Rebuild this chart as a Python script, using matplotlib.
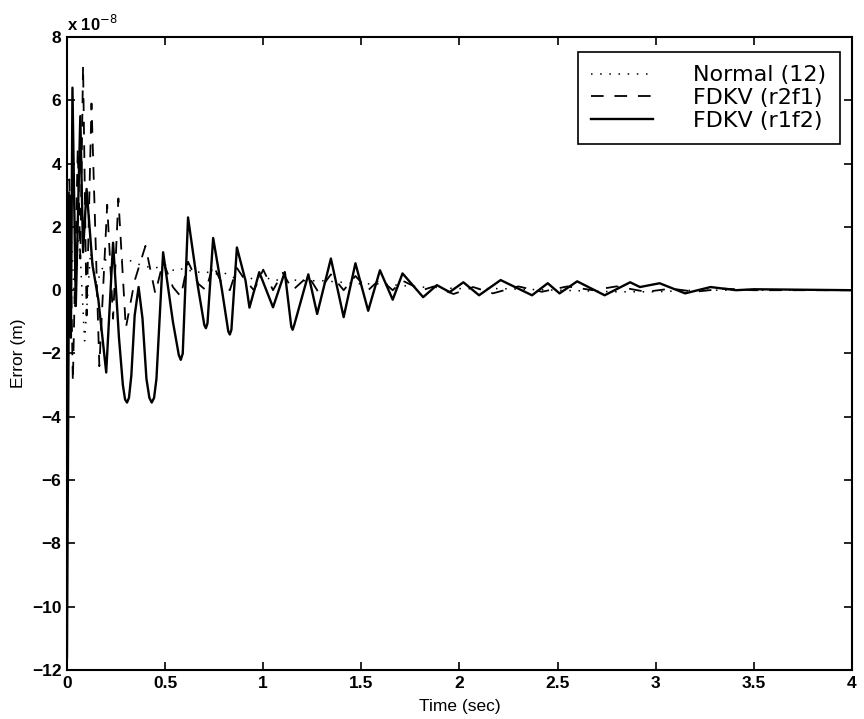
import matplotlib
matplotlib.use("Agg")
import matplotlib.pyplot as plt

plt.rcParams['font.family'] = ['Liberation Sans', 'DejaVu Sans']

# ---- data (values in units of 1e-8 m) ----
t_normal = [0.000, 0.015, 0.040, 0.060, 0.090, 0.120, 0.150, 0.200, 0.250, 0.300,
            0.350, 0.400, 0.450, 0.500, 0.550, 0.600, 0.650, 0.700, 0.750, 0.800,
            0.850, 0.900, 0.950, 1.000, 1.050, 1.100, 1.200, 1.300, 1.400, 1.500,
            1.600, 1.700, 1.800, 2.000, 2.200, 2.500, 2.800, 3.000, 3.200, 3.500, 4.000]
y_normal = [0.0, 2.5, -0.5, 2.0, -1.6, 1.2, 0.2, 1.0, 0.9, 1.0,
            0.85, 0.75, 0.7, 0.8, 0.6, 0.7, 0.55, 0.6, 0.5, 0.55,
            0.4, 0.45, 0.35, 0.45, 0.3, 0.35, 0.3, 0.3, 0.25, 0.2,
            0.2, 0.15, 0.1, 0.05, 0.05, 0.0, -0.05, -0.05, 0.0, 0.0, 0.0]

t_r2f1 = [0.000, 0.012, 0.030, 0.055, 0.068, 0.082, 0.100, 0.125, 0.165, 0.205,
          0.235, 0.262, 0.300, 0.345, 0.400, 0.450, 0.490, 0.540, 0.580, 0.617,
          0.670, 0.708, 0.745, 0.790, 0.830, 0.866, 0.910, 0.953, 1.000, 1.050,
          1.100, 1.150, 1.230, 1.280, 1.345, 1.410, 1.470, 1.535, 1.595, 1.660,
          1.710, 1.810, 1.870, 1.970, 2.070, 2.170, 2.300, 2.420, 2.550, 2.680,
          2.800, 2.950, 3.080, 3.200, 3.350, 3.500, 4.000]
y_r2f1 = [0.5, 3.5, -2.9, 4.5, 1.0, 7.1, -0.8, 5.9, -2.4, 2.7,
          -0.9, 2.9, -1.2, 0.3, 1.4, -0.1, 0.9, 0.1, -0.2, 0.9,
          0.2, 0.0, 0.8, 0.2, 0.0, 0.7, 0.3, 0.0, 0.65, 0.0,
          0.55, 0.0, 0.45, -0.05, 0.5, 0.0, 0.45, 0.0, 0.35, 0.0,
          0.3, 0.0, 0.12, -0.12, 0.1, -0.1, 0.12, -0.05, 0.12, 0.0,
          0.12, -0.05, 0.05, -0.05, 0.05, 0.0, 0.0]

t_r1f2 = [0.000, 0.012, 0.020, 0.028, 0.045, 0.068, 0.082, 0.100, 0.130, 0.160,
          0.200, 0.235, 0.265, 0.285, 0.296, 0.306, 0.316, 0.328, 0.345, 0.365,
          0.385, 0.405, 0.420, 0.432, 0.444, 0.456, 0.490, 0.540, 0.570, 0.580,
          0.590, 0.617, 0.665, 0.700, 0.708, 0.716, 0.745, 0.790, 0.822, 0.830,
          0.838, 0.866, 0.910, 0.930, 0.980, 1.050, 1.110, 1.143, 1.150, 1.158,
          1.230, 1.275, 1.345, 1.410, 1.470, 1.535, 1.595, 1.660, 1.710, 1.815,
          1.885, 1.950, 2.020, 2.100, 2.210, 2.370, 2.450, 2.510, 2.600, 2.740,
          2.870, 2.920, 3.020, 3.150, 3.280, 3.410, 3.500, 4.000]
y_r1f2 = [-11.6, 3.0, -1.5, 6.4, -0.5, 5.5, 1.2, 3.2, 0.8, -0.3,
          -2.6, 1.5, -1.5, -3.0, -3.45, -3.55, -3.4, -2.7, -0.8, 0.1,
          -0.9, -2.8, -3.4, -3.55, -3.4, -2.8, 1.2, -1.0, -2.05, -2.2,
          -2.0, 2.3, 0.2, -1.1, -1.2, -1.05, 1.65, 0.0, -1.3, -1.4,
          -1.25, 1.35, 0.3, -0.55, 0.57, -0.54, 0.57, -1.15, -1.25, -1.1,
          0.5, -0.75, 1.0, -0.85, 0.85, -0.65, 0.63, -0.3, 0.53, -0.22,
          0.16, -0.06, 0.25, -0.16, 0.32, -0.16, 0.22, -0.1, 0.28, -0.16,
          0.25, 0.1, 0.22, -0.1, 0.1, 0.0, 0.03, 0.0]

labels = ['Normal (12)', 'FDKV (r2f1)', 'FDKV (r1f2)']
xticks = [0, 0.5, 1, 1.5, 2, 2.5, 3, 3.5, 4]
xticklabels = ['0', '0.5', '1', '1.5', '2', '2.5', '3', '3.5', '4']
yticks = [-12, -10, -8, -6, -4, -2, 0, 2, 4, 6, 8]

fig = plt.figure(figsize=(8.64, 7.19), dpi=100)
ax = fig.add_axes([0.0775, 0.0682, 0.9085, 0.8803])

ax.plot(t_normal, y_normal, color='black', lw=1.1, linestyle=(0, (1, 5)), label=labels[0])
ax.plot(t_r2f1, y_r2f1, color='black', lw=1.3, linestyle=(0, (7, 6)), label=labels[1])
ax.plot(t_r1f2, y_r1f2, color='black', lw=1.7, linestyle='-', label=labels[2])

ax.set_xlim(0, 4)
ax.set_ylim(-12, 8)
ax.set_xticks(xticks)
ax.set_xticklabels(xticklabels)
ax.set_yticks(yticks)
ax.tick_params(direction='in', top=True, right=True, length=6, width=1.2,
               labelsize=12.5, pad=4)
for lab in ax.get_xticklabels() + ax.get_yticklabels():
    lab.set_fontweight('bold')
for s in ax.spines.values():
    s.set_linewidth(1.5)

ax.set_xlabel('Time (sec)', fontsize=12.5, labelpad=6)
ax.set_ylabel('Error (m)', fontsize=12.5, labelpad=4)
ax.text(0.0, 1.005, r'x 10$^{-8}$', transform=ax.transAxes, fontsize=12,
        fontweight='bold', ha='left', va='bottom')

leg = ax.legend(loc='upper right', bbox_to_anchor=(0.9847, 0.9763), borderaxespad=0,
                prop={'family': ['DejaVu Sans'], 'size': 16},
                frameon=True, fancybox=False, edgecolor='black',
                framealpha=1, handlelength=2.8, handletextpad=1.8, borderpad=0.6,
                labelspacing=0.12)
leg.get_frame().set_linewidth(1.2)

fig.savefig('out.png', dpi=100)
